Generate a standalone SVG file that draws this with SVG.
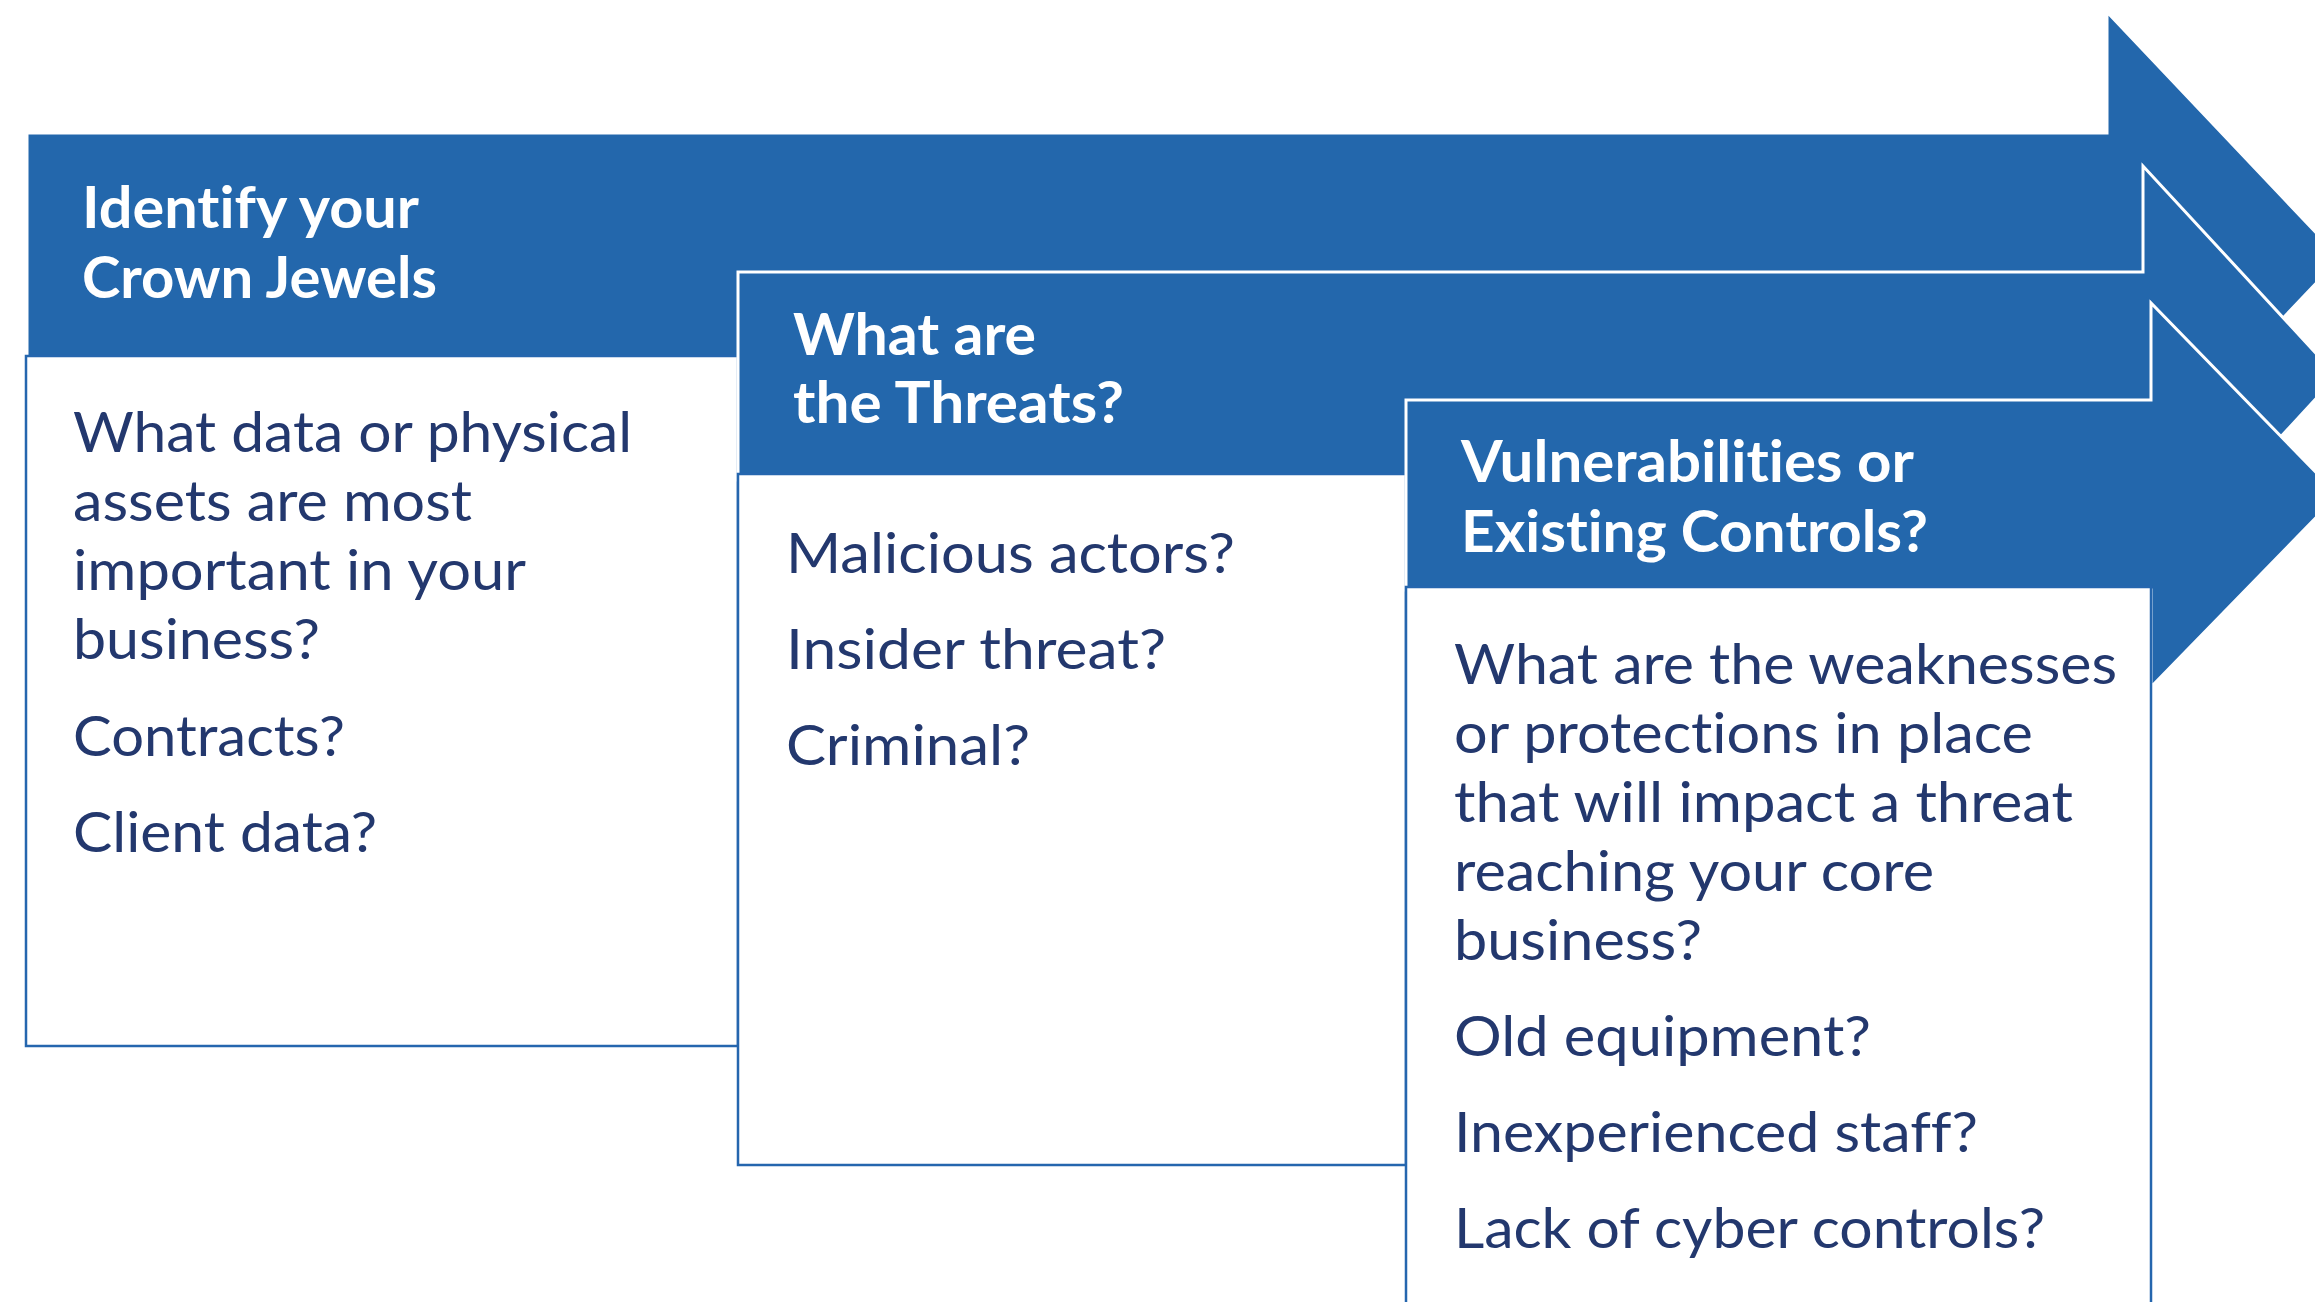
<svg xmlns="http://www.w3.org/2000/svg" width="2315" height="1302" viewBox="0 0 2315 1302">
  <style>
    .arrow { fill: #2367AC; stroke: #FFFFFF; stroke-width: 3; stroke-linejoin: miter; }
    .card { fill: #FFFFFF; stroke: #2566AE; stroke-width: 2.5; }
    text { font-variant-ligatures: none; font-feature-settings: "liga" 0, "dlig" 0; }
    .title { font-family: Lato, "Liberation Sans", sans-serif; font-weight: 700; font-size: 57px; fill: #FFFFFF; }
    .body { font-family: Lato, "Liberation Sans", sans-serif; font-weight: 400; font-size: 57px; fill: #23386E; }
  </style>
  <rect width="2315" height="1302" fill="#FFFFFF"/>

  <!-- Step 1: crown jewels -->
  <g id="step-crown-jewels">
    <path class="arrow" d="M27,133 H2107 V12 L2340,258 L2107,504 V383 H27 Z"/>
    <rect class="card" x="26" y="356" width="712" height="690"/>
    <text class="title" x="82" y="228" textLength="337" lengthAdjust="spacingAndGlyphs">Identify your</text>
    <text class="title" x="82" y="298" textLength="355" lengthAdjust="spacingAndGlyphs">Crown Jewels</text>
    <text class="body" x="73" y="452" textLength="559" lengthAdjust="spacingAndGlyphs">What data or physical</text>
    <text class="body" x="73" y="521" textLength="399" lengthAdjust="spacingAndGlyphs">assets are most</text>
    <text class="body" x="73" y="590" textLength="453" lengthAdjust="spacingAndGlyphs">important in your</text>
    <text class="body" x="73" y="659" textLength="247" lengthAdjust="spacingAndGlyphs">business?</text>
    <text class="body" x="73" y="756" textLength="272" lengthAdjust="spacingAndGlyphs">Contracts?</text>
    <text class="body" x="73" y="852" textLength="304" lengthAdjust="spacingAndGlyphs">Client data?</text>
  </g>

  <!-- Step 2: threats -->
  <g id="step-threats">
    <path class="arrow" d="M738,272 H2143 V166 L2337,376 L2143,586 V480 H738 Z"/>
    <rect class="card" x="738" y="474" width="668" height="691"/>
    <text class="title" x="793" y="355" textLength="243" lengthAdjust="spacingAndGlyphs">What are</text>
    <text class="title" x="793" y="423" textLength="331" lengthAdjust="spacingAndGlyphs">the Threats?</text>
    <text class="body" x="786" y="573" textLength="449" lengthAdjust="spacingAndGlyphs">Malicious actors?</text>
    <text class="body" x="786" y="669" textLength="380" lengthAdjust="spacingAndGlyphs">Insider threat?</text>
    <text class="body" x="786" y="765" textLength="244" lengthAdjust="spacingAndGlyphs">Criminal?</text>
  </g>

  <!-- Step 3: vulnerabilities and controls -->
  <g id="step-vulnerabilities">
    <path class="arrow" d="M1406,400 H2151 V303 L2338,495 L2151,687 V590 H1406 Z"/>
    <rect class="card" x="1406" y="587" width="745" height="800"/>
    <text class="title" x="1461" y="482" textLength="453" lengthAdjust="spacingAndGlyphs">Vulnerabilities or</text>
    <text class="title" x="1461" y="552" textLength="467" lengthAdjust="spacingAndGlyphs">Existing Controls?</text>
    <text class="body" x="1454" y="684" textLength="663" lengthAdjust="spacingAndGlyphs">What are the weaknesses</text>
    <text class="body" x="1454" y="753" textLength="579" lengthAdjust="spacingAndGlyphs">or protections in place</text>
    <text class="body" x="1454" y="822" textLength="619" lengthAdjust="spacingAndGlyphs">that will impact a threat</text>
    <text class="body" x="1454" y="891" textLength="480" lengthAdjust="spacingAndGlyphs">reaching your core</text>
    <text class="body" x="1454" y="960" textLength="248" lengthAdjust="spacingAndGlyphs">business?</text>
    <text class="body" x="1454" y="1056" textLength="417" lengthAdjust="spacingAndGlyphs">Old equipment?</text>
    <text class="body" x="1454" y="1152" textLength="524" lengthAdjust="spacingAndGlyphs">Inexperienced staff?</text>
    <text class="body" x="1454" y="1248" textLength="591" lengthAdjust="spacingAndGlyphs">Lack of cyber controls?</text>
  </g>
</svg>
